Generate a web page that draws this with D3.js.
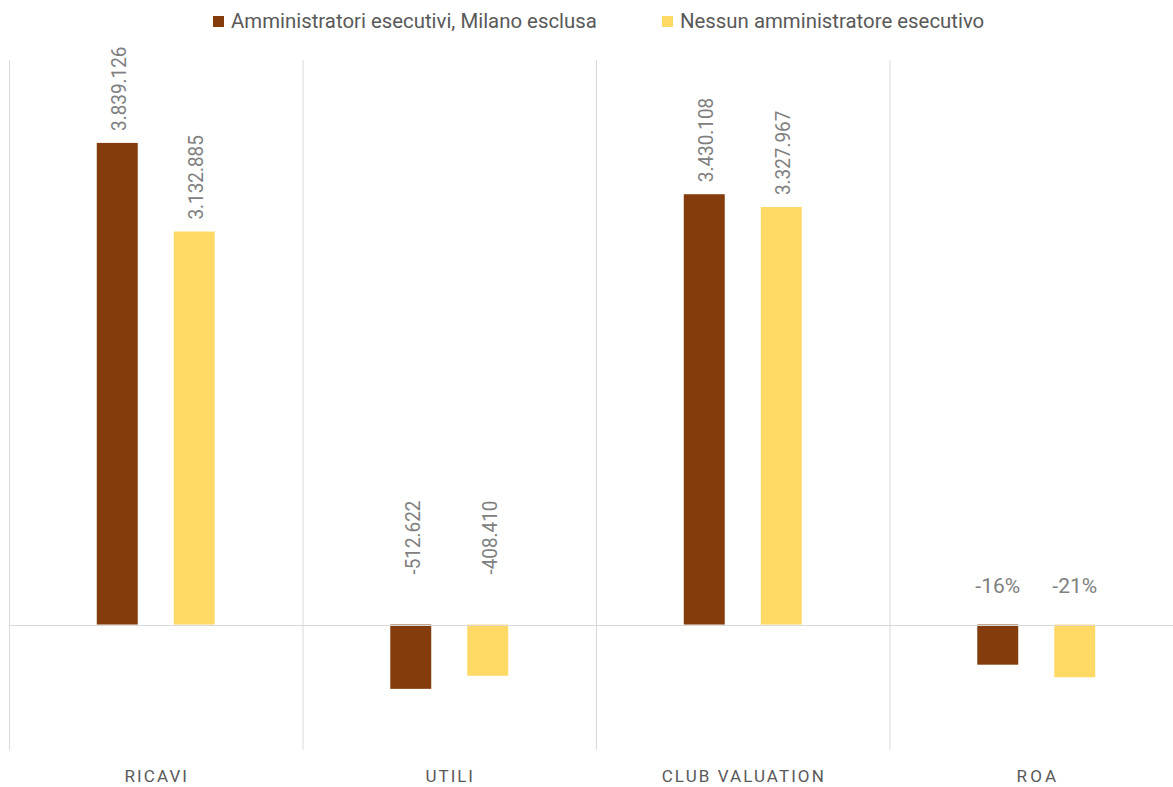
<!DOCTYPE html>
<html>
<head>
<meta charset="utf-8">
<script src="https://cdn.jsdelivr.net/npm/d3@7"></script>
<style>
  html, body { margin: 0; padding: 0; background: #ffffff; }
  svg { display: block; font-family: Roboto, "Open Sans", sans-serif; }
</style>
</head>
<body>
<svg id="chart" width="1173" height="787"></svg>
<script>
// Categories and series
const categories = ["RICAVI", "UTILI", "CLUB VALUATION", "ROA"];
const seriesNames = ["Amministratori esecutivi, Milano esclusa", "Nessun amministratore esecutivo"];
const seriesColors = ["#843C0C", "#FFD966"];
// Monetary measures (primary axis)
const esecutivi = [3839126, -512622, 3430108, null];
const nessuno = [3132885, -408410, 3327967, null];
// ROA on its own (secondary) axis
const roaValues = [-0.16, -0.21];
const primaryDomain = [-1000000, 4500000];
const secondaryDomain = [-0.5, 2.25];

const svg = d3.select("#chart");
const plot = { left: 9, right: 1183, top: 60, bottom: 750 };

const x0 = d3.scaleBand().domain(categories).range([plot.left, plot.right]).padding(0);
const x1 = d3.scaleBand().domain(seriesNames).range([0, x0.bandwidth()])
  .paddingInner(0.468).paddingOuter(1.14);
const y = d3.scaleLinear().domain(primaryDomain).range([plot.bottom, plot.top]);
const y2 = d3.scaleLinear().domain(secondaryDomain).range([plot.bottom, plot.top]);

// Italian number format: dot as thousands separator, plain hyphen for minus
const itFmt = d3.formatLocale({ decimal: ",", thousands: ".", grouping: [3], currency: ["€", ""], minus: "-" });
const numFmt = itFmt.format(",d");
const pctFmt = v => Math.round(v * 100) + "%";

// Condensed setting: scale the rendered width of a text by a ratio
function condensed(sel, ratio, adjust) {
  sel.each(function () {
    const w = this.getComputedTextLength();
    d3.select(this).attr("textLength", w * ratio).attr("lengthAdjust", adjust || "spacingAndGlyphs");
  });
}

const rows = [];
categories.forEach((c, i) => {
  const vals = c === "ROA" ? roaValues : [esecutivi[i], nessuno[i]];
  vals.forEach((v, s) => {
    rows.push({
      cat: c, series: seriesNames[s], color: seriesColors[s], value: v,
      scale: c === "ROA" ? y2 : y,
      label: c === "ROA" ? pctFmt(v) : numFmt(v),
      rotated: c !== "ROA"
    });
  });
});

// Category separators (vertical gridlines)
const seps = d3.range(categories.length + 1).map(i => plot.left + i * x0.step());
svg.append("g").selectAll("line").data(seps).join("line")
  .attr("x1", d => d + 0.5).attr("x2", d => d + 0.5)
  .attr("y1", plot.top).attr("y2", plot.bottom)
  .attr("stroke", "#d9d9d9").attr("stroke-width", 1);

// Bars
svg.append("g").selectAll("rect").data(rows).join("rect")
  .attr("x", d => x0(d.cat) + x1(d.series))
  .attr("width", x1.bandwidth())
  .attr("y", d => Math.min(d.scale(d.value), d.scale(0)))
  .attr("height", d => Math.abs(d.scale(d.value) - d.scale(0)))
  .attr("fill", d => d.color);

// Zero line
svg.append("line")
  .attr("x1", plot.left).attr("x2", plot.right)
  .attr("y1", Math.round(y(0)) + 0.5).attr("y2", Math.round(y(0)) + 0.5)
  .attr("stroke", "#d9d9d9").attr("stroke-width", 1);

// Value labels
const labels = svg.append("g").attr("fill", "#808080");
rows.forEach(d => {
  const cx = x0(d.cat) + x1(d.series) + x1.bandwidth() / 2;
  if (d.rotated) {
    const anchorY = d.value >= 0 ? d.scale(d.value) - 12 : d.scale(0) - 50;
    labels.append("text")
      .attr("transform", `translate(${cx + 9},${anchorY}) rotate(-90)`)
      .attr("text-anchor", "start")
      .attr("font-size", 19.5)
      .text(d.label)
      .call(condensed, 0.97);
  } else {
    labels.append("text")
      .attr("x", cx).attr("y", d.scale(0) - 32)
      .attr("text-anchor", "middle")
      .attr("font-size", 21)
      .text(d.label)
      .call(condensed, 1.0);
  }
});

// Category axis labels, letter-spaced
svg.append("g").selectAll("text").data(categories).join("text")
  .attr("x", d => x0(d) + x0.bandwidth() / 2)
  .attr("y", 782)
  .attr("text-anchor", "middle")
  .attr("fill", "#595959")
  .attr("font-size", 17)
  .text(d => d)
  .call(condensed, 1.2, "spacing");

// Legend
const legendItems = [
  { name: seriesNames[0], color: seriesColors[0], x: 213 },
  { name: seriesNames[1], color: seriesColors[1], x: 662 }
];
const lg = svg.append("g");
legendItems.forEach(it => {
  lg.append("rect").attr("x", it.x).attr("y", 16).attr("width", 11).attr("height", 11).attr("fill", it.color);
  lg.append("text").attr("x", it.x + 18).attr("y", 28)
    .attr("fill", "#595959").attr("font-size", 21).text(it.name)
    .call(condensed, 0.97);
});
</script>
</body>
</html>
